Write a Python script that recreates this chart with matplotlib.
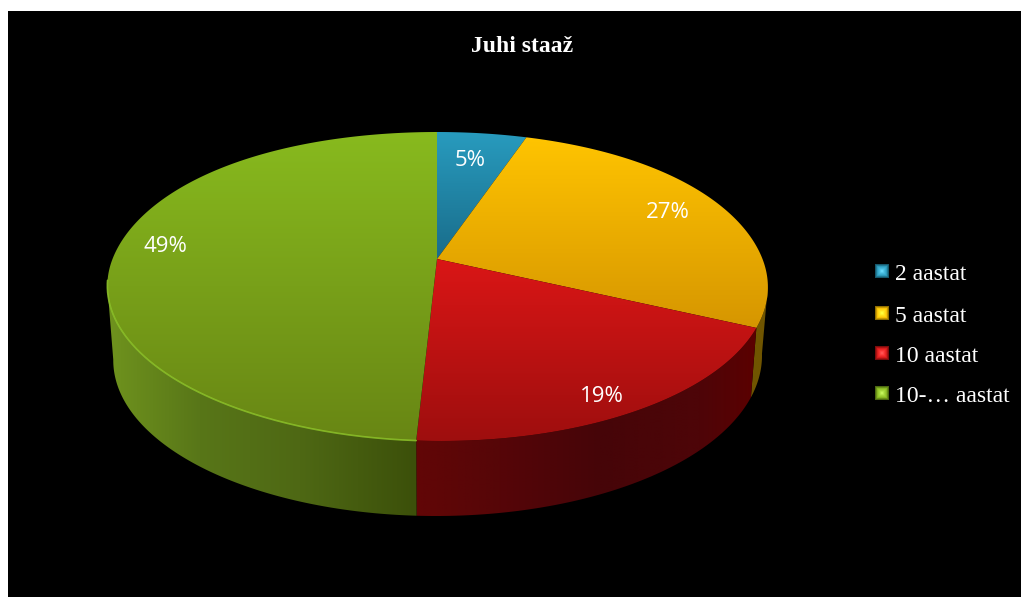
import numpy as np
import matplotlib
matplotlib.use("Agg")
import matplotlib.pyplot as plt
from matplotlib.patches import Polygon, Rectangle

title = "Juhi staaž"
categories = ["2 aastat", "5 aastat", "10 aastat", "10-… aastat"]
values = [5, 27, 19, 49]

# top face colours, upper edge -> lower edge of each slice
top_light = [(40, 155, 190), (255, 196, 0), (218, 22, 22), (136, 186, 30)]
top_dark = [(25, 108, 138), (214, 150, 0), (158, 14, 14), (104, 134, 20)]
# side wall colour stops along x
side_x = [
    [100, 800],
    [100, 800],
    [416, 500, 600, 700, 760],
    [105, 200, 300, 416],
]
side_rgb = [
    [(20, 80, 100), (20, 80, 100)],
    [(112, 85, 0), (112, 85, 0)],
    [(98, 6, 6), (86, 6, 8), (70, 5, 8), (78, 5, 8), (92, 0, 0)],
    [(112, 148, 30), (88, 118, 24), (78, 104, 20), (60, 80, 10)],
]
label_xy = [(470, 161), (668, 213), (602, 396), (165, 247)]
legend_y = [271, 313, 353, 393]

# pie geometry in pixels
cx, cy = 437, 259
a, b, k = 325, 149.6, 0.178


def rim(theta):
    # theta is measured clockwise from 12 o'clock, in degrees
    t = np.radians(theta)
    u, v = np.sin(t), np.cos(t)
    w = 1 + k * v
    x = cx + a * u / w
    # the rendering is not quite a clean projection, nudge the slice corners
    x = x + 4 * np.where(v < 0, v * v, 0) + 12 * u * np.where(v > 0, v * v, 0)
    return x + 0.5 * np.abs(u), cy - b * v / w


def rim_low(theta):
    t = np.radians(theta)
    u, v = np.sin(t), np.cos(t)
    x, y = rim(theta)
    return x - 6 * u, y + 70 - 5 * v - 3 * u


def gradient_fill(ax, pts, rgb_img, extent):
    patch = Polygon(pts, closed=True, fc="none", ec="none", transform=ax.transData)
    ax.add_patch(patch)
    im = ax.imshow(rgb_img, extent=extent, aspect="auto", interpolation="bilinear", zorder=patch.get_zorder())
    im.set_clip_path(patch)
    return im


fig = plt.figure(figsize=(10.21, 5.97), dpi=100, facecolor="white")
ax = fig.add_axes([0, 0, 1, 1])
ax.axis("off")
ax.add_patch(Rectangle((8, 11), 1021, 597, fc="black", ec="none", zorder=0))

edges = np.cumsum([0] + values) * 3.6

# side walls first, the top faces get painted over them
for i in range(len(values)):
    t0, t1 = max(edges[i], 100), min(edges[i + 1], 260)
    if t1 <= t0:
        continue
    th = np.linspace(t0, t1, 160)
    xt, yt = rim(th)
    xb, yb = rim_low(th)
    pts = np.r_[np.c_[xt, yt], np.c_[xb, yb][::-1]]
    xs = np.linspace(pts[:, 0].min(), pts[:, 0].max(), 256)
    stops = np.array(side_rgb[i], dtype=float)
    img = np.stack([np.interp(xs, side_x[i], stops[:, c]) for c in range(3)], axis=-1)[None, :, :] / 255
    gradient_fill(ax, pts, img, (xs[0], xs[-1], pts[:, 1].max(), pts[:, 1].min()))

for i in range(len(values)):
    th = np.linspace(edges[i], edges[i + 1], max(int(values[i]) * 8, 30))
    xt, yt = rim(th)
    pts = np.r_[[(cx, cy)], np.c_[xt, yt]]
    y0, y1 = pts[:, 1].min(), pts[:, 1].max()
    f = np.linspace(0, 1, 256)[:, None, None]
    img = (np.array(top_light[i], float) * (1 - f) + np.array(top_dark[i], float) * f) / 255
    gradient_fill(ax, pts, img, (pts[:, 0].min(), pts[:, 0].max(), y1, y0))

# pale highlight along the front rim of the big slice
th = np.linspace(edges[3], 262, 200)
ax.plot(*rim(th), color=(142 / 255, 196 / 255, 42 / 255), lw=1.2, alpha=0.85, solid_capstyle="round")

for (x, y), v in zip(label_xy, values):
    ax.text(x, y, f"{v}%", color="white", fontsize=16, family="Open Sans", ha="center", va="center")

ax.text(522, 46, title, color="white", fontsize=17, family="Liberation Serif", weight="bold", ha="center", va="center")

# legend keys have a small bevel: pale centre, dim borders
n = 15
g = np.linspace(-1, 1, n)
dist = np.maximum(*np.meshgrid(np.abs(g), np.abs(g)))[..., None]
for i, (name, y) in enumerate(zip(categories, legend_y)):
    base = np.array(top_light[i], float) / 255
    img = base * (0.55 + 0.45 * np.minimum((1 - dist) * 3, 1)) + 0.3 * (1 - dist) ** 2
    ax.imshow(np.clip(img, 0, 1), extent=(875, 889, y + 7, y - 7), aspect="auto", interpolation="bilinear", zorder=3)
    ax.text(895, y + 4, name, color="white", fontsize=17, family="Liberation Serif", ha="left", va="center")

ax.set_xlim(0, 1021)
ax.set_ylim(597, 0)
fig.savefig("out.png", dpi=100, facecolor="white")
